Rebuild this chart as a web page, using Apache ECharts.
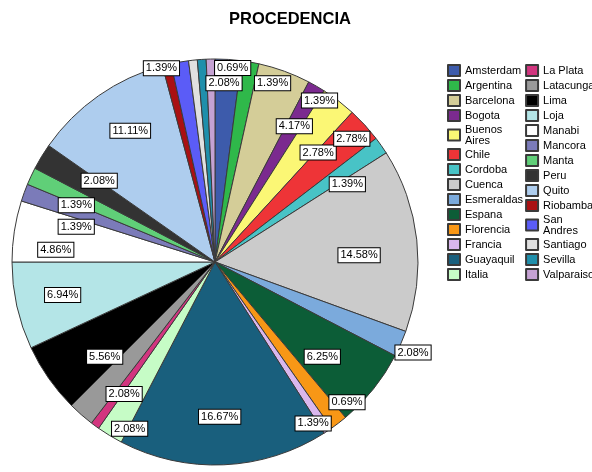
<!DOCTYPE html>
<html>
<head>
<meta charset="utf-8">
<script src="https://cdn.jsdelivr.net/npm/echarts@6.0.0/dist/echarts.min.js"></script>
<style>
  html, body { margin: 0; background: #ffffff; }
  #chart { width: 592px; height: 472px; }
</style>
</head>
<body>
<div id="chart"></div>
<script>
  // frecuencias por ciudad de procedencia (n = 144)
  var cities = ['Amsterdam', 'Argentina', 'Barcelona', 'Bogota', 'Buenos Aires', 'Chile', 'Cordoba',
    'Cuenca', 'Esmeraldas', 'Espana', 'Florencia', 'Francia', 'Guayaquil', 'Italia',
    'La Plata', 'Latacunga', 'Lima', 'Loja', 'Manabi', 'Mancora', 'Manta', 'Peru',
    'Quito', 'Riobamba', 'San Andres', 'Santiago', 'Sevilla', 'Valparaiso'];
  var counts = [3, 2, 6, 2, 4, 4, 2,
    21, 3, 9, 2, 1, 24, 3,
    1, 3, 8, 10, 7, 2, 2, 3,
    16, 1, 2, 1, 1, 1];
  var colors = ['#3d5bab', '#2fb84a', '#d4cd98', '#7b2a8f', '#fbf775', '#ee3437', '#48c3c6',
    '#cbcbcb', '#7baadc', '#0c5d37', '#f89716', '#dab7ee', '#195f7d', '#c6fcc6',
    '#d2357f', '#999999', '#000000', '#b4e5e7', '#ffffff', '#7b7bb9', '#60cf78', '#333333',
    '#aecdee', '#aa1012', '#5b5cf7', '#e0e0e0', '#1f8fab', '#c5a2d3'];
  // etiquetas que no aparecen en el grafico
  var hiddenLabels = ['La Plata', 'Riobamba', 'Santiago', 'Sevilla'];
  // desplazamiento de algunas etiquetas (como las coloca SPSS)
  var labelNudge = {
    'Amsterdam': [-1, -26], 'Argentina': [31, -28], 'Barcelona': [27, 8], 'Bogota': [28, -29],
    'Buenos Aires': [10, 12], 'Chile': [24, -20], 'Cordoba': [7, 10], 'Cuenca': [-8, 10],
    'Esmeraldas': [58, 29], 'Espana': [-12, -1], 'Florencia': [5, 40], 'Francia': [47, 13],
    'Guayaquil': [-2, 2], 'Italia': [-6, 36], 'Latacunga': [10, 17], 'Lima': [15, 7],
    'Loja': [-3, 0], 'Manabi': [-8, 11], 'Mancora': [5, 17], 'Manta': [0, 8], 'Peru': [15, -2],
    'Quito': [3, -6], 'San Andres': [-27, -43], 'Valparaiso': [21, -41]
  };
  var twoLine = { 'Buenos Aires': 'Buenos\nAires', 'San Andres': 'San\nAndres' };

  var total = counts.reduce(function (a, b) { return a + b; }, 0);

  var pieData = cities.map(function (name, i) {
    return { name: name, value: counts[i], itemStyle: { color: colors[i] } };
  });

  var labelData = cities.map(function (name, i) {
    return {
      name: name,
      value: counts[i],
      label: { show: hiddenLabels.indexOf(name) < 0 }
    };
  });

  var chart = echarts.init(document.getElementById('chart'));
  chart.setOption({
    animation: false,
    title: {
      text: 'PROCEDENCIA',
      left: 229,
      top: 11,
      padding: 0,
      textStyle: { fontFamily: 'Liberation Sans', fontSize: 16.5, fontWeight: 'bold', color: '#000' }
    },
    legend: {
      data: cities,
      orient: 'vertical',
      left: 447,
      top: 64,
      height: 222,
      padding: 0,
      itemWidth: 12,
      itemHeight: 11,
      itemGap: 2,
      icon: 'rect',
      formatter: function (name) {
        return twoLine[name] || name;
      },
      textStyle: { fontFamily: 'Liberation Sans', fontSize: 11, lineHeight: 11, color: '#000' }
    },
    series: [{
      type: 'pie',
      center: [215, 262],
      radius: 203,
      startAngle: 90,
      clockwise: true,
      data: pieData,
      label: { show: false },
      labelLine: { show: false },
      itemStyle: { borderColor: '#3a3a3a', borderWidth: 1 },
      emphasis: { disabled: true }
    }, {
      // serie transparente solo para colocar las etiquetas a ~0.74 del radio
      type: 'pie',
      center: [215, 262],
      radius: 300,
      startAngle: 90,
      clockwise: true,
      data: labelData,
      silent: true,
      legendHoverLink: false,
      itemStyle: { color: 'rgba(0,0,0,0)', borderWidth: 0 },
      label: {
        show: true,
        position: 'inside',
        formatter: function (p) {
          return (p.value / total * 100).toFixed(2) + '%';
        },
        fontFamily: 'Liberation Sans',
        fontSize: 11,
        color: '#000',
        backgroundColor: '#fff',
        borderColor: '#000',
        borderWidth: 1,
        padding: [2, 2, 1, 2]
      },
      labelLayout: function (params) {
        var n = labelNudge[cities[params.dataIndex]];
        return n ? { dx: n[0], dy: n[1], hideOverlap: false } : { hideOverlap: false };
      },
      emphasis: { disabled: true }
    }]
  });
</script>
</body>
</html>
